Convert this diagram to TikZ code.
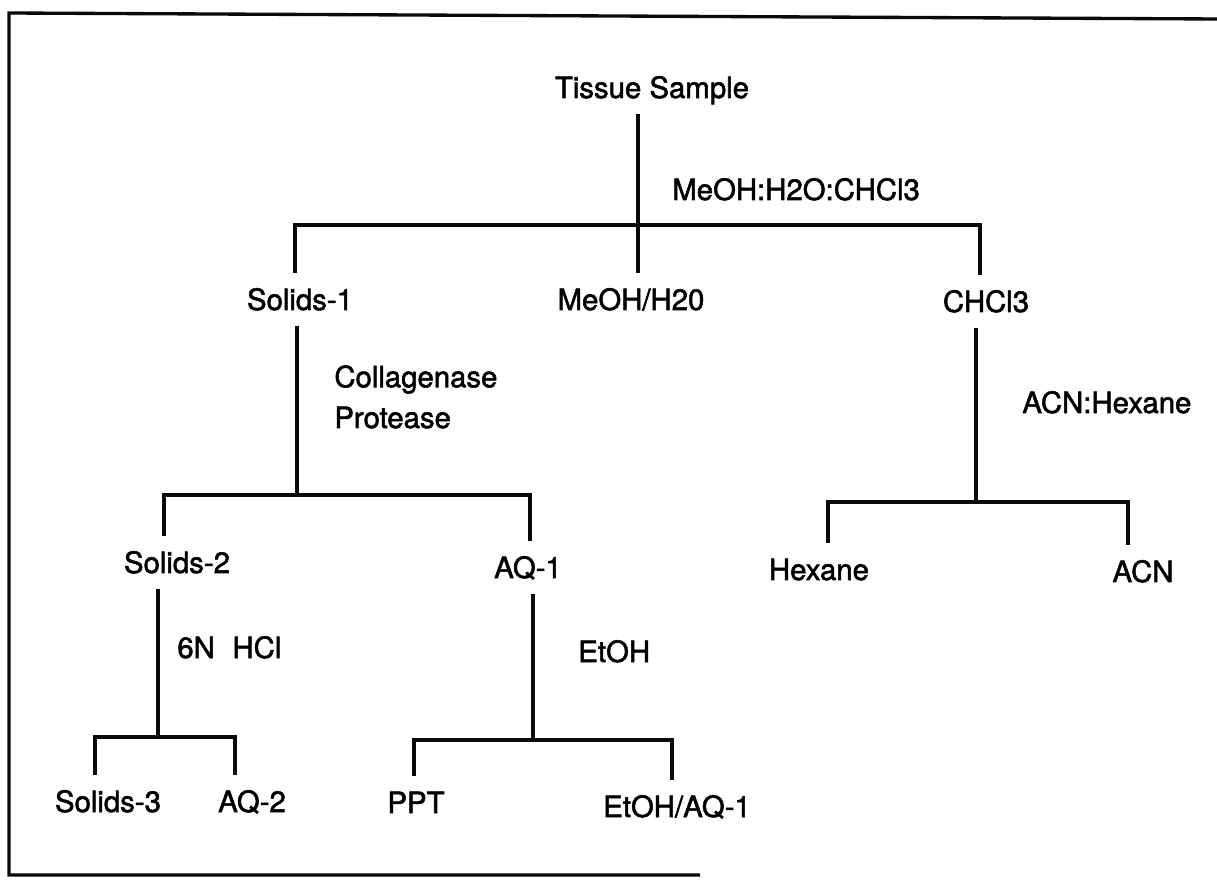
\documentclass[tikz,border=0pt]{standalone}
\usepackage{fontspec}
\setmainfont{TeX Gyre Heros}[FakeBold=1.8]
\usetikzlibrary{positioning, calc}
\definecolor{colLine}{RGB}{10,10,10}
\tikzset{
    item/.style={inner sep=0pt, outer ysep=9pt, text height=12pt, text depth=0pt,
        anchor=base, font=\fontsize{16.7}{23.2}\selectfont},
    reagent/.style={inner sep=0pt, anchor=base west, align=left,
        font=\fontsize{16.7}{23.2}\selectfont},
    branch/.style={draw=colLine, line width=1.9pt, line cap=butt, line join=miter}
}
\begin{document}
\begin{tikzpicture}[x=0.02cm, y=-0.02cm]

    \useasboundingbox (0,0) rectangle (1217,881);

    % frame
    \draw[branch] (1217,19) -- (9,13) -- (9,875) -- (700,875);

    % products
    \node[item] (tissue) at (652,98) {Tissue Sample};
    \node[item] (solidsA) at (300,310) {Solids-1};
    \node[item] (meoh) at (631,310) {MeOH/H20};
    \node[item] (chcl) at (986,312) {CHCl3};
    \node[item] (solidsB) at (177,573) {Solids-2};
    \node[item] (aqA) at (528,578) {AQ-1};
    \node[item] (hexane) at (819,580) {Hexane};
    \node[item] (acn) at (1143,582) {ACN};
    \node[item] (solidsC) at (108,812) {Solids-3};
    \node[item] (aqB) at (252,812) {AQ-2};
    \node[item] (ppt) at (416,813) {PPT};
    \node[item] (etaq) at (677,817) {EtOH/AQ-1};

    % reagents
    \node[reagent] (solvA) at (672,200) {MeOH:H2O:CHCl3};
    \node[reagent] (enzymes) at (334,428) {Collagenase\\Protease};
    \node[reagent] (solvB) at (1022,413) {ACN:Hexane};
    \node[reagent] (acid) at (177,658) {6N\hspace{0.6em}HCl};
    \node[reagent] (etoh) at (578,662) {EtOH};

    % junctions
    \coordinate (j0) at (638,225);
    \coordinate (b0l) at (295,225);
    \coordinate (b0r) at (980,225);
    \coordinate (j1) at (297,495);
    \coordinate (b1l) at (164,495);
    \coordinate (b1r) at (530,495);
    \coordinate (j2) at (976,502);
    \coordinate (b2l) at (828,502);
    \coordinate (b2r) at (1128,502);
    \coordinate (j3) at (158,737);
    \coordinate (b3l) at (95,737);
    \coordinate (b3r) at (235,737);
    \coordinate (j4) at (533,740);
    \coordinate (b4l) at (414,740);
    \coordinate (b4r) at (672,740);

    \draw[branch] (tissue.south -| j0) -- (j0 |- meoh.north);
    \draw[branch] (b0l |- solidsA.north) -- (b0l) -- (b0r) -- (b0r |- chcl.north);

    \draw[branch] (solidsA.south -| j1) -- (j1);
    \draw[branch] (b1l |- solidsB.north) -- (b1l) -- (b1r) -- (b1r |- aqA.north);

    \draw[branch] (chcl.south -| j2) -- (j2);
    \draw[branch] (b2l |- hexane.north) -- (b2l) -- (b2r) -- (b2r |- acn.north);

    \draw[branch] (solidsB.south -| j3) -- (j3);
    \draw[branch] (b3l |- solidsC.north) -- (b3l) -- (b3r) -- (b3r |- aqB.north);

    \draw[branch] (aqA.south -| j4) -- (j4);
    \draw[branch] (b4l |- ppt.north) -- (b4l) -- (b4r) -- (b4r |- etaq.north);

\end{tikzpicture}
\end{document}
